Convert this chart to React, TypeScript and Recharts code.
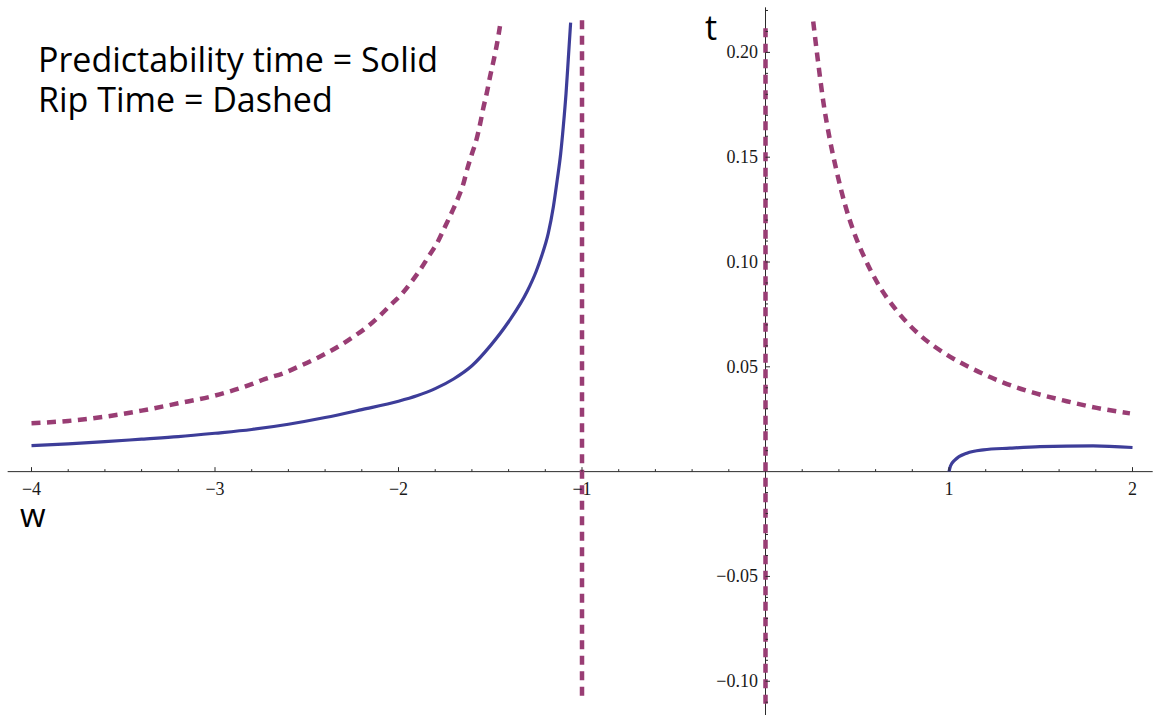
import React from 'react';
import { ComposedChart, Line, Scatter, XAxis, YAxis, ReferenceLine } from 'recharts';

// values (w on x, t on y)
const solidLeftW = [-4, -3.8, -3.6, -3.4, -3.2, -3, -2.8, -2.6, -2.4, -2.2, -2, -1.9, -1.8, -1.7, -1.6, -1.5, -1.4, -1.3, -1.25, -1.22, -1.184, -1.156, -1.135, -1.116, -1.102, -1.087, -1.075, -1.062];
const solidLeftT = [0.0124, 0.0132, 0.0143, 0.0155, 0.0167, 0.0183, 0.0201, 0.0226, 0.0258, 0.0296, 0.0336, 0.0362, 0.0396, 0.0442, 0.0505, 0.06, 0.0715, 0.0858, 0.0955, 0.1029, 0.1137, 0.1264, 0.1392, 0.1519, 0.1646, 0.1805, 0.1964, 0.2142];

const dashedLeftW = [-4, -3.8, -3.6, -3.4, -3.2, -3, -2.8, -2.73, -2.62, -2.55, -2.46, -2.39, -2.32, -2.25, -2.17, -2.11, -2.05, -1.98, -1.93, -1.88, -1.83, -1.79, -1.75, -1.71, -1.674, -1.647, -1.625, -1.601, -1.574, -1.556, -1.538, -1.519, -1.501, -1.483, -1.465, -1.447];
const dashedLeftT = [0.0231, 0.0242, 0.0262, 0.0291, 0.0326, 0.0363, 0.0417, 0.0441, 0.0472, 0.0499, 0.0535, 0.0566, 0.0601, 0.0641, 0.0691, 0.0737, 0.0789, 0.085, 0.0905, 0.0966, 0.1035, 0.109, 0.1162, 0.1236, 0.1308, 0.1372, 0.1445, 0.1513, 0.1588, 0.1656, 0.1734, 0.1806, 0.1885, 0.1956, 0.2033, 0.2125];

const dashedRightW = [0.26, 0.288, 0.315, 0.352, 0.388, 0.433, 0.479, 0.542, 0.615, 0.715, 0.842, 0.988, 1.132, 1.296, 1.459, 1.641, 1.805, 1.986];
const dashedRightT = [0.2147, 0.1944, 0.1765, 0.1578, 0.1432, 0.1275, 0.1149, 0.1016, 0.0893, 0.0768, 0.0651, 0.0558, 0.0489, 0.0425, 0.0377, 0.0336, 0.0304, 0.0278];

const solidRightW = [1.0, 1.008, 1.033, 1.097, 1.187, 1.332, 1.496, 1.785, 2.0];
const solidRightT = [0, 0.0027, 0.0056, 0.0088, 0.0104, 0.0112, 0.0119, 0.0123, 0.0115];

// dashed vertical strokes at the poles
const poleAW = [-1, -1];
const poleAT = [0.2153, -0.1075];
const poleBW = [0, 0];
const poleBT = [0.2115, -0.1138];

const xMajor = [-4, -3, -2, -1, 1, 2];
const xMajorLabels = ['\u22124', '\u22123', '\u22122', '\u22121', '1', '2'];
const xMinor = [-3.8, -3.6, -3.4, -3.2, -2.8, -2.6, -2.4, -2.2, -1.8, -1.6, -1.4, -1.2, -0.8, -0.6, -0.4, -0.2, 0.2, 0.4, 0.6, 0.8, 1.2, 1.4, 1.6, 1.8];
const yMajor = [0.2, 0.15, 0.1, 0.05, -0.05, -0.1];
const yMajorLabels = ['0.20', '0.15', '0.10', '0.05', '\u22120.05', '\u22120.10'];
const yMinor = [0.22, 0.21, 0.19, 0.18, 0.17, 0.16, 0.14, 0.13, 0.12, 0.11, 0.09, 0.08, 0.07, 0.06, 0.04, 0.03, 0.02, 0.01, -0.01, -0.02, -0.03, -0.04, -0.06, -0.07, -0.08, -0.09, -0.11];

const zip = (xs: number[], ys: number[]) => xs.map((x, i) => ({ x, y: ys[i] }));

const solidLeft = zip(solidLeftW, solidLeftT);
const dashedLeft = zip(dashedLeftW, dashedLeftT);
const dashedRight = zip(dashedRightW, dashedRightT);
const solidRight = zip(solidRightW, solidRightT);
const poleA = zip(poleAW, poleAT);
const poleB = zip(poleBW, poleBT);

const xMajorData = xMajor.map((x, i) => ({ x, y: 0, label: xMajorLabels[i] }));
const xMinorData = xMinor.map((x) => ({ x, y: 0 }));
const yMajorData = yMajor.map((y, i) => ({ x: 0, y, label: yMajorLabels[i] }));
const yMinorData = yMinor.map((y) => ({ x: 0, y }));

const W = 1153;
const H = 715;
const AXIS = '#2b2b2b';
const SOLID = '#3d3d99';
const DASHED = '#993d74';
const tickFont = '"Liberation Serif", "DejaVu Serif", serif';
const textFont = '"Open Sans", "Noto Sans", sans-serif';

// eslint-disable-next-line @typescript-eslint/no-explicit-any
const XMajorTick = (p: any) => (
  <g>
    <line x1={p.cx} y1={p.cy} x2={p.cx} y2={p.cy - 4.5} stroke={AXIS} strokeWidth={1} />
    <text x={p.cx} y={p.cy + 23} textAnchor="middle" fontFamily={tickFont} fontSize={18} fill="#1a1a1a">
      {p.payload.label}
    </text>
  </g>
);
// eslint-disable-next-line @typescript-eslint/no-explicit-any
const XMinorTick = (p: any) => (
  <line x1={p.cx} y1={p.cy} x2={p.cx} y2={p.cy - 2.5} stroke={AXIS} strokeWidth={1} />
);
// eslint-disable-next-line @typescript-eslint/no-explicit-any
const YMajorTick = (p: any) => (
  <g>
    <line x1={p.cx} y1={p.cy} x2={p.cx + 4.5} y2={p.cy} stroke={AXIS} strokeWidth={1} />
    <text x={p.cx - 7.5} y={p.cy + 6} textAnchor="end" fontFamily={tickFont} fontSize={18} fill="#1a1a1a">
      {p.payload.label}
    </text>
  </g>
);
// eslint-disable-next-line @typescript-eslint/no-explicit-any
const YMinorTick = (p: any) => (
  <line x1={p.cx} y1={p.cy} x2={p.cx + 2.5} y2={p.cy} stroke={AXIS} strokeWidth={1} />
);

export default function App() {
  return (
    <div style={{ position: 'absolute', left: 0, top: 0, width: W, height: H, background: '#fff' }}>
      <ComposedChart width={W} height={H} margin={{ top: 0, right: 0, bottom: 0, left: 0 }}>
        <XAxis type="number" dataKey="x" domain={[-4.1717, 2.1117]} allowDataOverflow hide />
        <YAxis type="number" dataKey="y" domain={[-0.1161, 0.225]} allowDataOverflow hide />

        <ReferenceLine segment={[{ x: -4.13, y: 0 }, { x: 2.11, y: 0 }]} stroke={AXIS} strokeWidth={1} />
        <ReferenceLine segment={[{ x: 0, y: -0.1161 }, { x: 0, y: 0.2215 }]} stroke={AXIS} strokeWidth={1} />

        <Scatter data={xMinorData} shape={XMinorTick} isAnimationActive={false} />
        <Scatter data={xMajorData} shape={XMajorTick} isAnimationActive={false} />
        <Scatter data={yMinorData} shape={YMinorTick} isAnimationActive={false} />
        <Scatter data={yMajorData} shape={YMajorTick} isAnimationActive={false} />

        <Line data={dashedLeft} dataKey="y" type="monotone" stroke={DASHED} strokeWidth={4.5} strokeDasharray="9 6.5" dot={false} activeDot={false} isAnimationActive={false} />
        <Line data={dashedRight} dataKey="y" type="monotone" stroke={DASHED} strokeWidth={4.5} strokeDasharray="9 6.5" dot={false} activeDot={false} isAnimationActive={false} />
        <Line data={poleA} dataKey="y" type="linear" stroke={DASHED} strokeWidth={4.5} strokeDasharray="9 6.5" dot={false} activeDot={false} isAnimationActive={false} />
        <Line data={poleB} dataKey="y" type="linear" stroke={DASHED} strokeWidth={4.5} strokeDasharray="9 6.5" dot={false} activeDot={false} isAnimationActive={false} />
        <Line data={solidLeft} dataKey="y" type="monotone" stroke={SOLID} strokeWidth={3.2} dot={false} activeDot={false} isAnimationActive={false} />
        <Line data={solidRight} dataKey="y" type="monotone" stroke={SOLID} strokeWidth={3.2} dot={false} activeDot={false} isAnimationActive={false} />
      </ComposedChart>

      <svg width={W} height={H} style={{ position: 'absolute', left: 0, top: 0, pointerEvents: 'none' }}>
        <text x={38} y={71.7} fontFamily={textFont} fontSize={34} fill="#000">Predictability time = Solid</text>
        <text x={38} y={111.7} fontFamily={textFont} fontSize={34} fill="#000">Rip Time = Dashed</text>
        <text x={705} y={40} fontFamily={textFont} fontSize={34} fill="#000">t</text>
        <text x={20} y={527} fontFamily={textFont} fontSize={33} fill="#000">w</text>
      </svg>
    </div>
  );
}
